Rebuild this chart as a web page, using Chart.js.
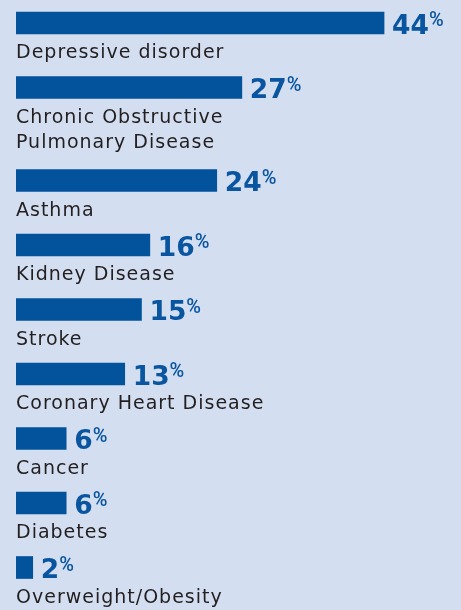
<!DOCTYPE html>
<html>
<head>
<meta charset="utf-8">
<script src="https://cdn.jsdelivr.net/npm/chart.js@4/dist/chart.umd.min.js"></script>
<style>
  html, body { margin: 0; padding: 0; background: #d3dff0; }
  canvas { display: block; }
</style>
</head>
<body>
<canvas id="c" width="461" height="610"></canvas>
<script>
// ---- data ----
const categories = [
  ["Depressive disorder"],
  ["Chronic Obstructive", "Pulmonary Disease"],
  ["Asthma"],
  ["Kidney Disease"],
  ["Stroke"],
  ["Coronary Heart Disease"],
  ["Cancer"],
  ["Diabetes"],
  ["Overweight/Obesity"]
];
const percentValues = [44, 27, 24, 16, 15, 13, 6, 6, 2];

// ---- layout (not data) ----
const BG = '#d3dff0';
const BAR = '#02529c';
const VALUE_COLOR = '#0a55a0';
const TEXT_COLOR = '#231f20';
const ROW_PITCH = 64.5;      // row height for a one-line label
const EXTRA_LINE = 28.5;     // extra row height per additional label line
const FIRST_CENTER = 23;
const LABEL_FONT = '400 19px "DejaVu Sans"';
const LINE_H = 25;
const LABEL_GAP = 24;        // bar bottom to first label baseline

// row positions derived from the number of label lines
const rowPos = [];
let acc = FIRST_CENTER;
categories.forEach((lines) => {
  rowPos.push(acc);
  acc += ROW_PITCH + EXTRA_LINE * (lines.length - 1);
});

const points = percentValues.map((v, i) => ({ x: v, y: rowPos[i] }));

const labelPlugin = {
  id: 'labels',
  beforeDraw(chart) {
    const ctx = chart.ctx;
    ctx.save();
    ctx.fillStyle = BG;
    ctx.fillRect(0, 0, chart.width, chart.height);
    ctx.restore();
  },
  afterDatasetsDraw(chart) {
    const ctx = chart.ctx;
    const meta = chart.getDatasetMeta(0);
    ctx.save();
    meta.data.forEach((bar, i) => {
      const half = bar.height / 2;
      // value
      ctx.fillStyle = VALUE_COLOR;
      ctx.textAlign = 'left';
      ctx.textBaseline = 'alphabetic';
      ctx.letterSpacing = '0px';
      ctx.font = '700 26.5px "DejaVu Sans"';
      const num = String(percentValues[i]);
      const x0 = bar.x + 8;
      ctx.fillText(num, x0, bar.y + 10.5);
      const w = ctx.measureText(num).width;
      ctx.font = '500 20px Roboto';
      ctx.fillText('%', x0 + w, bar.y + 3);
      // category label
      ctx.fillStyle = TEXT_COLOR;
      ctx.font = LABEL_FONT;
      ctx.letterSpacing = '1px';
      categories[i].forEach((line, k) => {
        ctx.fillText(line, chart.chartArea.left, bar.y + half + LABEL_GAP + k * LINE_H);
      });
    });
    ctx.restore();
  }
};

new Chart(document.getElementById('c'), {
  type: 'bar',
  data: {
    datasets: [{
      data: points,
      backgroundColor: BAR,
      borderWidth: 0,
      barThickness: 22
    }]
  },
  options: {
    indexAxis: 'y',
    responsive: false,
    animation: false,
    layout: { padding: { left: 16, right: 0, top: 0, bottom: 0 } },
    plugins: { legend: { display: false }, tooltip: { enabled: false } },
    scales: {
      x: { type: 'linear', min: 0, max: 53.2, display: false },
      y: { type: 'linear', min: 0, max: 610, reverse: true, offset: false, display: false }
    }
  },
  plugins: [labelPlugin]
});
</script>
</body>
</html>
